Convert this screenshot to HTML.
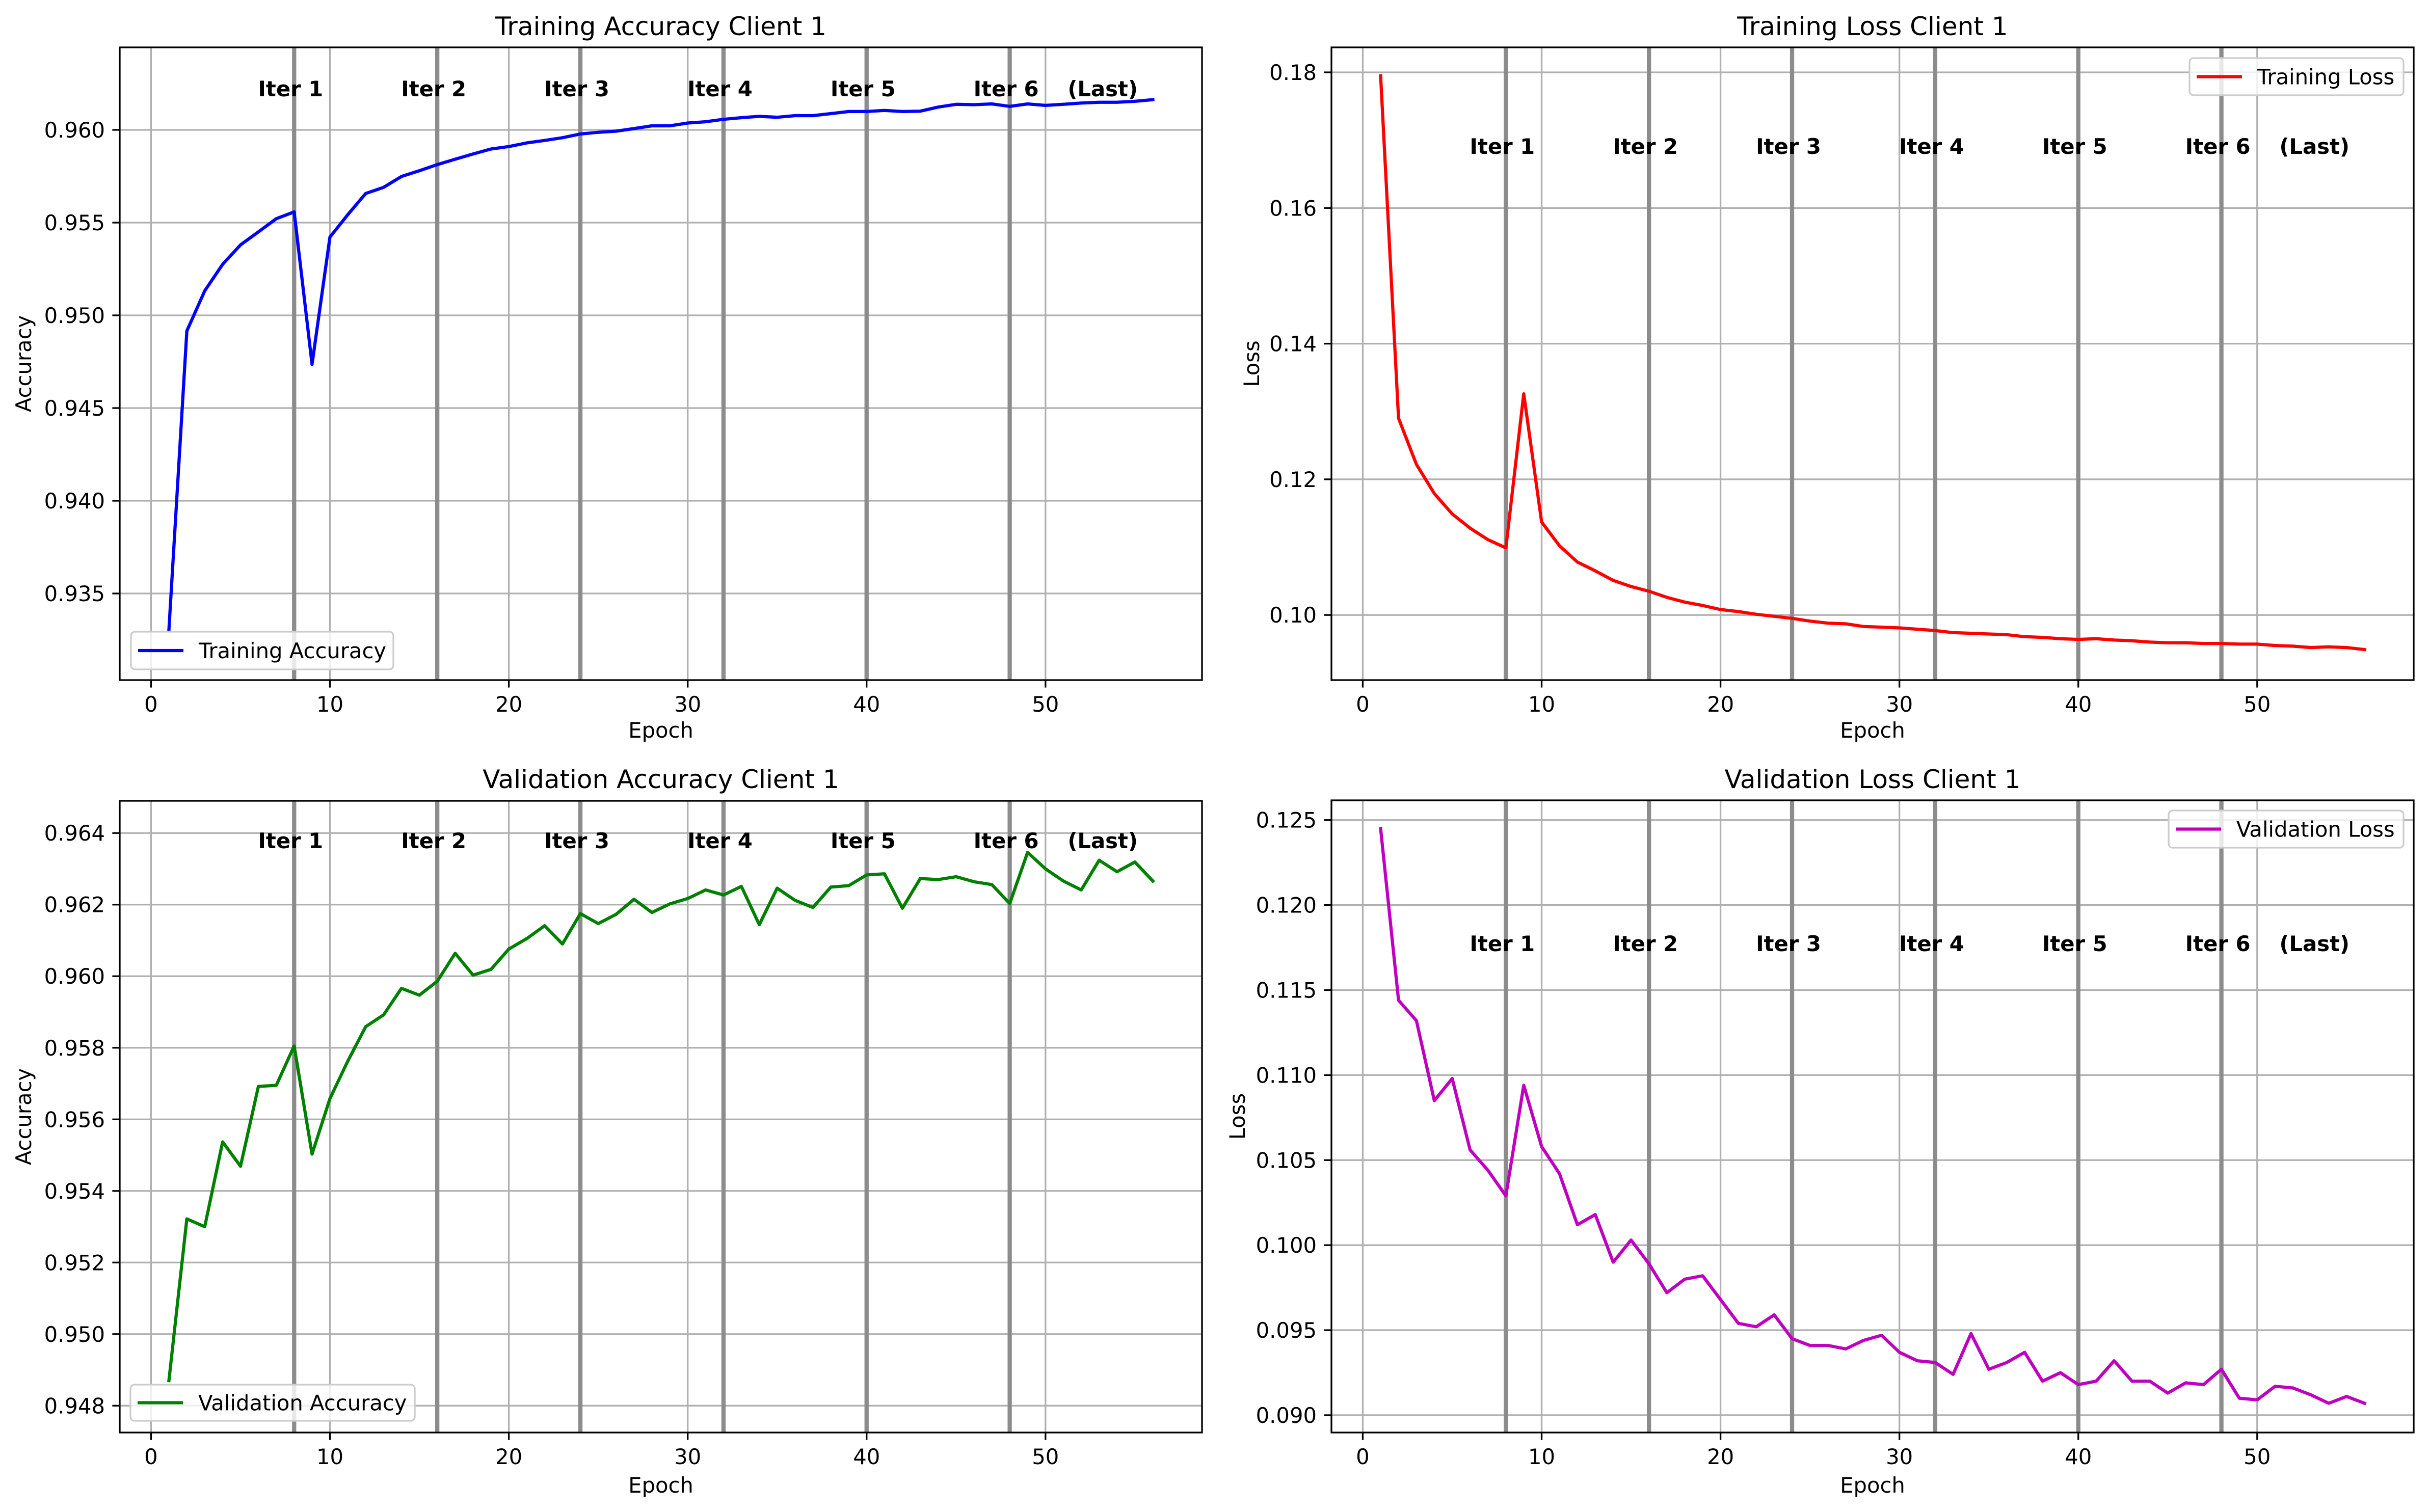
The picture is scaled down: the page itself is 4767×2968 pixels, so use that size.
<!DOCTYPE html>
<html><head><meta charset="utf-8"><style>
html,body{margin:0;padding:0;background:#fff;}
svg{display:block;font-family:"DejaVu Sans","Liberation Sans",sans-serif;}
</style></head><body>
<svg id="fig" width="4767" height="2968" viewBox="0 0 4767 2968" xmlns="http://www.w3.org/2000/svg">
<rect x="0" y="0" width="4767" height="2968" fill="#fff"/>
</svg>
<script>
const epochs = Array.from({length:56},(_,i)=>i+1);
const xTicks = [0,10,20,30,40,50];
const iterEpochs = [8,16,24,32,40,48];
const iterLabels = ["Iter 1","Iter 2","Iter 3","Iter 4","Iter 5","Iter 6"];
const lastLabel = "(Last)";
const trainAcc = [0.93305,0.94916,0.95132,0.95275,0.9538,0.9545,0.95521,0.95558,0.94736,0.95422,0.95543,0.95657,0.9569,0.95749,0.9578,0.95813,0.95842,0.9587,0.95897,0.9591,0.9593,0.95943,0.95958,0.95978,0.95987,0.95993,0.96007,0.96022,0.96022,0.96037,0.96044,0.96057,0.96066,0.96073,0.96068,0.96077,0.96077,0.96088,0.96099,0.96099,0.96105,0.96099,0.96101,0.96123,0.96138,0.96136,0.9614,0.96127,0.9614,0.96132,0.96138,0.96145,0.96149,0.96149,0.96154,0.96163];
const trainLoss = [0.1795,0.1290,0.1222,0.1179,0.1149,0.1128,0.1111,0.1099,0.1326,0.1137,0.1102,0.1078,0.1065,0.1051,0.1042,0.1035,0.1026,0.1019,0.1014,0.1008,0.1005,0.1001,0.0998,0.0995,0.0991,0.0988,0.0987,0.0983,0.0982,0.0981,0.0979,0.0977,0.0974,0.0973,0.0972,0.0971,0.0968,0.0967,0.0965,0.0964,0.0965,0.0963,0.0962,0.0960,0.0959,0.0959,0.0958,0.0958,0.0957,0.0957,0.0955,0.0954,0.0952,0.0953,0.0952,0.0949];
const valAcc = [0.94870,0.95322,0.95300,0.95537,0.95469,0.95692,0.95695,0.95805,0.95503,0.95658,0.95763,0.95859,0.95892,0.95966,0.95947,0.95986,0.96064,0.96003,0.96019,0.96076,0.96105,0.96141,0.9609,0.96175,0.96147,0.96173,0.96215,0.96178,0.96202,0.96217,0.96241,0.96227,0.96251,0.96144,0.96246,0.96212,0.96192,0.96249,0.96253,0.96283,0.96286,0.9619,0.96273,0.9627,0.96278,0.96264,0.96256,0.96203,0.96346,0.963,0.96266,0.96241,0.96324,0.96292,0.96319,0.96266];
const valLoss = [0.1245,0.1144,0.1132,0.1085,0.1098,0.1056,0.1044,0.1029,0.1094,0.1058,0.1042,0.1012,0.1018,0.0990,0.1003,0.0989,0.0972,0.0980,0.0982,0.0968,0.0954,0.0952,0.0959,0.0945,0.0941,0.0941,0.0939,0.0944,0.0947,0.0937,0.0932,0.0931,0.0924,0.0948,0.0927,0.0931,0.0937,0.0920,0.0925,0.0918,0.0920,0.0932,0.0920,0.0920,0.0913,0.0919,0.0918,0.0927,0.0910,0.0909,0.0917,0.0916,0.0912,0.0907,0.0911,0.0907];
const tlTicks = [0.935,0.940,0.945,0.950,0.955,0.960];
const trTicks = [0.10,0.12,0.14,0.16,0.18];
const blTicks = [0.948,0.950,0.952,0.954,0.956,0.958,0.960,0.962,0.964];
const brTicks = [0.090,0.095,0.100,0.105,0.110,0.115,0.120,0.125];
const tlTickLabels = ["0.935","0.940","0.945","0.950","0.955","0.960"];
const trTickLabels = ["0.10","0.12","0.14","0.16","0.18"];
const blTickLabels = ["0.948","0.950","0.952","0.954","0.956","0.958","0.960","0.962","0.964"];
const brTickLabels = ["0.090","0.095","0.100","0.105","0.110","0.115","0.120","0.125"];

const NS="http://www.w3.org/2000/svg";
const fig=document.getElementById('fig');
function mk(tag,attrs,parent){const e=document.createElementNS(NS,tag);for(const k in attrs)e.setAttribute(k,attrs[k]);(parent||fig).appendChild(e);return e;}

function panel(o){
  const g=mk('g',{});
  
  
  const X0=o.x0,X1=o.x1,Y0=o.y0,Y1=o.y1;
  const xs=v=>X0+(v-(-1.75))/(60.5)*(X1-X0);
  const ys=v=>Y1-(v-o.ylim[0])/(o.ylim[1]-o.ylim[0])*(Y1-Y0);
  // grid
  xTicks.forEach(t=>{const l=mk('line',{x1:xs(t),x2:xs(t),y1:Y0,y2:Y1,stroke:'#b0b0b0','stroke-width':3.3},g);
    });
  o.ticks.forEach(t=>{const l=mk('line',{x1:X0,x2:X1,y1:ys(t),y2:ys(t),stroke:'#b0b0b0','stroke-width':3.3},g);
    });
  // iteration lines
  iterEpochs.forEach(e=>{const l=mk('line',{x1:xs(e),x2:xs(e),y1:Y0,y2:Y1,stroke:'#8c8c8c','stroke-width':8.3},g);
    });
  // series
  const pts=epochs.map((e,i)=>xs(e).toFixed(1)+','+ys(o.data[i]).toFixed(1)).join(' ');
  const pl=mk('polyline',{points:pts,fill:'none',stroke:o.color,'stroke-width':6.25,'stroke-linejoin':'round','stroke-linecap':'square'},g);
  
  // iter labels
  iterEpochs.forEach((e,i)=>{const t=mk('text',{x:xs(e-0.2),y:o.labY+15,'text-anchor':'middle','font-size':41.7,'font-weight':'bold',fill:'#000'},g);
    t.textContent=iterLabels[i];});
  const tl=mk('text',{x:xs(53.2),y:o.labY+15,'text-anchor':'middle','font-size':41.7,'font-weight':'bold',fill:'#000'},g);
  tl.textContent=lastLabel;
  // spines
  const sp=mk('rect',{x:X0,y:Y0,width:X1-X0,height:Y1-Y0,fill:'none',stroke:'#000','stroke-width':3.3},g);
  
  // x ticks
  xTicks.forEach(t=>{mk('line',{x1:xs(t),x2:xs(t),y1:Y1,y2:Y1+14.6,stroke:'#000','stroke-width':3.3},g);
    const tx=mk('text',{x:xs(t),y:Y1+62,'text-anchor':'middle','font-size':41.7,fill:'#000'},g);
    tx.textContent=String(t);});
  o.ticks.forEach((t,i)=>{mk('line',{x1:X0-14.6,x2:X0,y1:ys(t),y2:ys(t),stroke:'#000','stroke-width':3.3},g);
    const tx=mk('text',{x:X0-29,y:ys(t)+15,'text-anchor':'end','font-size':41.7,fill:'#000'},g);
    tx.textContent=o.tickLabels[i];});
  // titles & labels
  const ti=mk('text',{x:(X0+X1)/2,y:o.titleY+18,'text-anchor':'middle','font-size':50,fill:'#000'},g);
  ti.textContent=o.title;
  const xl=mk('text',{x:(X0+X1)/2,y:o.xlabY+15,'text-anchor':'middle','font-size':41.7,fill:'#000'},g);
  xl.textContent='Epoch';
  const yl=mk('text',{x:0,y:0,'text-anchor':'middle','font-size':41.7,fill:'#000',transform:`translate(${o.ylabX+15},${(Y0+Y1)/2}) rotate(-90)`},g);
  yl.textContent=o.ylabel;
  // legend
  const lg=mk('g',{},g);
  
  const L=o.leg;
  mk('rect',{x:L[0],y:L[1],width:L[2]-L[0],height:L[3]-L[1],rx:8,fill:'#fff','fill-opacity':0.8,stroke:'#cccccc','stroke-width':3.3},lg);
  const cy=(L[1]+L[3])/2;
  const ll=mk('line',{x1:L[0]+14,x2:L[0]+103,y1:cy,y2:cy,stroke:o.color,'stroke-width':6.25},lg);
  
  const lt=mk('text',{x:L[0]+133,y:cy+15,'font-size':41.7,fill:'#000'},lg);
  lt.textContent=o.seriesLabel;
}

panel({name:'training-accuracy-panel',x0:235,x1:2359,y0:93,y1:1335,ylim:[0.93033,0.96445],ticks:tlTicks,tickLabels:tlTickLabels,data:trainAcc,color:'#0000ff',seriesName:'training-accuracy-line',seriesLabel:'Training Accuracy',title:'Training Accuracy Client 1',ylabel:'Accuracy',labY:174,titleY:51,xlabY:1433,ylabX:46,leg:[257,1240,772,1314]});
panel({name:'training-loss-panel',x0:2613,x1:4737,y0:93,y1:1335,ylim:[0.0904,0.18368],ticks:trTicks,tickLabels:trTickLabels,data:trainLoss,color:'#ff0000',seriesName:'training-loss-line',seriesLabel:'Training Loss',title:'Training Loss Client 1',ylabel:'Loss',labY:287,titleY:51,xlabY:1433,ylabX:2456,leg:[4297,114,4717,187]});
panel({name:'validation-accuracy-panel',x0:235,x1:2359,y0:1572,y1:2812,ylim:[0.94725,0.9649],ticks:blTicks,tickLabels:blTickLabels,data:valAcc,color:'#008000',seriesName:'validation-accuracy-line',seriesLabel:'Validation Accuracy',title:'Validation Accuracy Client 1',ylabel:'Accuracy',labY:1650,titleY:1529,xlabY:2915,ylabX:46,leg:[256,2718,814,2789]});
panel({name:'validation-loss-panel',x0:2613,x1:4737,y0:1571,y1:2812,ylim:[0.08898,0.12616],ticks:brTicks,tickLabels:brTickLabels,data:valLoss,color:'#bf00bf',seriesName:'validation-loss-line',seriesLabel:'Validation Loss',title:'Validation Loss Client 1',ylabel:'Loss',labY:1852,titleY:1529,xlabY:2915,ylabX:2428,leg:[4256,1591,4717,1664]});
</script>
</body></html>
